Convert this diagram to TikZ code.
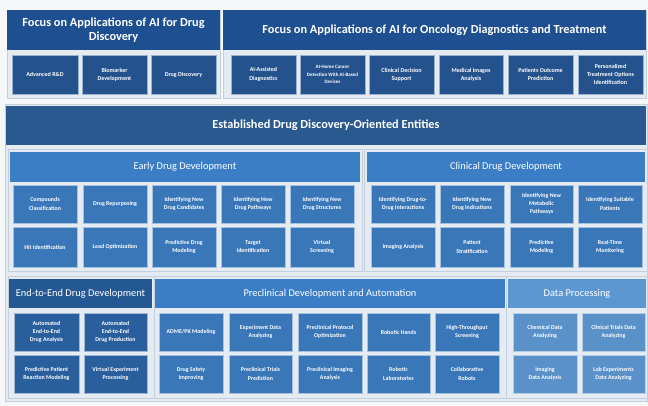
\documentclass[tikz,border=0pt]{standalone}
\usepackage{fontspec}
\setmainfont{Carlito}
\definecolor{pagebg}{HTML}{F6F7F9}
\definecolor{navyhead}{HTML}{1E4F91}
\definecolor{navycell}{HTML}{24528C}
\definecolor{estabhead}{HTML}{2A5990}
\definecolor{midhead}{HTML}{3C7EC5}
\definecolor{midcell}{HTML}{3A77B9}
\definecolor{darkhead}{HTML}{245892}
\definecolor{darkcell}{HTML}{2A5F9D}
\definecolor{lighthead}{HTML}{5D97D2}
\definecolor{lightcell}{HTML}{5A91C9}
\definecolor{panelfill}{HTML}{E4EBF2}
\definecolor{panelline}{HTML}{C3CFDB}
% place a named box from its corner coordinates (x1,y1)-(x2,y2)
\newcommand{\placebox}[7]{%
  \node[#6, minimum width={#4-#2}, minimum height={#5-#3}]
    (#1) at ({(#2+#4)/2},{(#3+#5)/2}) {#7};}
\tikzset{
  panelbox/.style={draw=panelline, fill=panelfill, line width=0.8, inner sep=0},
  headbox/.style={fill=#1, text=white, inner sep=0, align=center},
  titlefont/.style={font=\fontsize{12.3}{14}\selectfont\bfseries},
  subfont/.style={font=\fontsize{10.4}{12}\selectfont},
  cellbox/.style={fill=#1, draw=white!55!#1, line width=0.7, text=white,
    align=center, inner sep=0,
    font=\fontsize{5.9}{8.2}\selectfont\bfseries},
  topcell/.style={cellbox=navycell, font=\fontsize{6}{8.2}\selectfont\bfseries},
}
\begin{document}
\begin{tikzpicture}[x=1pt,y=-1pt]
\useasboundingbox (0,0) rectangle (648,406);
\fill[pagebg] (0,0) rectangle (648,406);

% ---- top left: AI for drug discovery ----
\placebox{tlpanel}{7}{10}{220}{98}{panelbox}{}
\placebox{tlhead}{7}{10}{220}{50}{headbox=navyhead, titlefont}{Focus on Applications of AI for Drug\\Discovery}
\placebox{tl1}{12}{55}{78}{94}{topcell}{Advanced R\&D}
\placebox{tl2}{82}{55}{147}{94}{topcell}{Biomarker\\Development}
\placebox{tl3}{151}{55}{216}{94}{topcell}{Drug Discovery}

% ---- top right: AI for oncology ----
\placebox{trpanel}{223}{10}{646}{98}{panelbox}{}
\placebox{trhead}{223}{10}{646}{50}{headbox=navyhead, titlefont}{Focus on Applications of AI for Oncology Diagnostics and Treatment}
\placebox{tr1}{231}{55}{296}{94}{topcell}{AI-Assisted\\Diagnostics}
\placebox{tr2}{300}{55}{365}{94}{topcell, font=\fontsize{5}{7.5}\selectfont\bfseries}{At-Home Cancer\\Detection With AI-Based\\Devices}
\placebox{tr3}{369}{55}{434}{94}{topcell}{Clinical Decision\\Support}
\placebox{tr4}{439}{55}{503}{94}{topcell}{Medical Images\\Analysis}
\placebox{tr5}{508}{55}{573}{94}{topcell}{Patients Outcome\\Prediction}
\placebox{tr6}{578}{55}{643}{94}{topcell}{Personalized\\Treatment Options\\Identification}

% ---- established entities ----
\placebox{estpanel}{5}{104}{647}{401}{panelbox}{}
\placebox{esthead}{6}{106}{646}{145}{headbox=estabhead, titlefont}{Established Drug Discovery-Oriented Entities}

% early drug development
\placebox{earlypanel}{8}{149}{362}{271}{panelbox}{}
\placebox{earlyhead}{10}{152}{360}{182}{headbox=midhead, subfont}{Early Drug Development}
\placebox{e1}{13}{185}{77}{223}{cellbox=midcell}{Compounds\\Classification}
\placebox{e2}{83}{185}{147}{223}{cellbox=midcell}{Drug Repurposing}
\placebox{e3}{152}{185}{216}{223}{cellbox=midcell}{Identifying New\\Drug Candidates}
\placebox{e4}{221}{185}{285}{223}{cellbox=midcell}{Identifying New\\Drug Pathways}
\placebox{e5}{290}{185}{354}{223}{cellbox=midcell}{Identifying New\\Drug Structures}
\placebox{e6}{13}{227}{77}{267}{cellbox=midcell}{Hit Identification}
\placebox{e7}{83}{227}{147}{267}{cellbox=midcell}{Lead Optimization}
\placebox{e8}{152}{227}{216}{267}{cellbox=midcell}{Predictive Drug\\Modeling}
\placebox{e9}{221}{227}{285}{267}{cellbox=midcell}{Target\\Identification}
\placebox{e10}{290}{227}{354}{267}{cellbox=midcell}{Virtual\\Screening}

% clinical drug development
\placebox{clinpanel}{364}{149}{647}{271}{panelbox}{}
\placebox{clinhead}{367}{152}{645}{182}{headbox=midhead, subfont}{Clinical Drug Development}
\placebox{c1}{371}{185}{435}{223}{cellbox=midcell}{Identifying Drug-to-\\Drug Interactions}
\placebox{c2}{440}{185}{504}{223}{cellbox=midcell}{Identifying New\\Drug Indications}
\placebox{c3}{510}{185}{573}{223}{cellbox=midcell}{Identifying New\\Metabolic\\Pathways}
\placebox{c4}{578}{185}{642}{223}{cellbox=midcell}{Identifying Suitable\\Patients}
\placebox{c5}{371}{227}{435}{267}{cellbox=midcell}{Imaging Analysis}
\placebox{c6}{440}{227}{504}{267}{cellbox=midcell}{Patient\\Stratification}
\placebox{c7}{510}{227}{573}{267}{cellbox=midcell}{Predictive\\Modeling}
\placebox{c8}{578}{227}{642}{267}{cellbox=midcell}{Real-Time\\Monitoring}

% end-to-end drug development
\placebox{e2epanel}{8}{276}{154}{398}{panelbox}{}
\placebox{e2ehead}{9}{279}{152}{308}{headbox=darkhead, subfont}{End-to-End Drug Development}
\placebox{d1}{14}{313}{79}{351}{cellbox=darkcell}{Automated\\End-to-End\\Drug Analysis}
\placebox{d2}{84}{313}{147}{351}{cellbox=darkcell}{Automated\\End-to-End\\Drug Production}
\placebox{d3}{14}{355}{79}{393}{cellbox=darkcell}{Predictive Patient\\Reaction Modeling}
\placebox{d4}{84}{355}{147}{393}{cellbox=darkcell}{Virtual Experiment\\Processing}

% preclinical development and automation
\placebox{prepanel}{154}{276}{506}{398}{panelbox}{}
\placebox{prehead}{155}{279}{505}{308}{headbox=midhead, subfont}{Preclinical Development and Automation}
\placebox{p1}{159}{313}{223}{351}{cellbox=midcell}{ADME/PK Modeling}
\placebox{p2}{229}{313}{292}{351}{cellbox=midcell}{Experiment Data\\Analyzing}
\placebox{p3}{298}{313}{362}{351}{cellbox=midcell}{Preclinical Protocol\\Optimization}
\placebox{p4}{367}{313}{430}{351}{cellbox=midcell}{Robotic Hands}
\placebox{p5}{435}{313}{499}{351}{cellbox=midcell}{High-Throughput\\Screening}
\placebox{p6}{159}{355}{223}{393}{cellbox=midcell}{Drug Safety\\Improving}
\placebox{p7}{229}{355}{292}{393}{cellbox=midcell}{Preclinical Trials\\Prediction}
\placebox{p8}{298}{355}{362}{393}{cellbox=midcell}{Preclinical Imaging\\Analysis}
\placebox{p9}{367}{355}{430}{393}{cellbox=midcell}{Robotic\\Laboratories}
\placebox{p10}{435}{355}{499}{393}{cellbox=midcell}{Collaborative\\Robots}

% data processing
\placebox{datapanel}{506}{276}{647}{398}{panelbox}{}
\placebox{datahead}{508}{279}{646}{308}{headbox=lighthead, subfont}{Data Processing}
\placebox{g1}{513}{313}{577}{351}{cellbox=lightcell}{Chemical Data\\Analyzing}
\placebox{g2}{582}{313}{645}{351}{cellbox=lightcell}{Clinical Trials Data\\Analyzing}
\placebox{g3}{513}{355}{577}{393}{cellbox=lightcell}{Imaging\\Data Analysis}
\placebox{g4}{582}{355}{645}{393}{cellbox=lightcell}{Lab Experiments\\Data Analyzing}
\end{tikzpicture}
\end{document}
